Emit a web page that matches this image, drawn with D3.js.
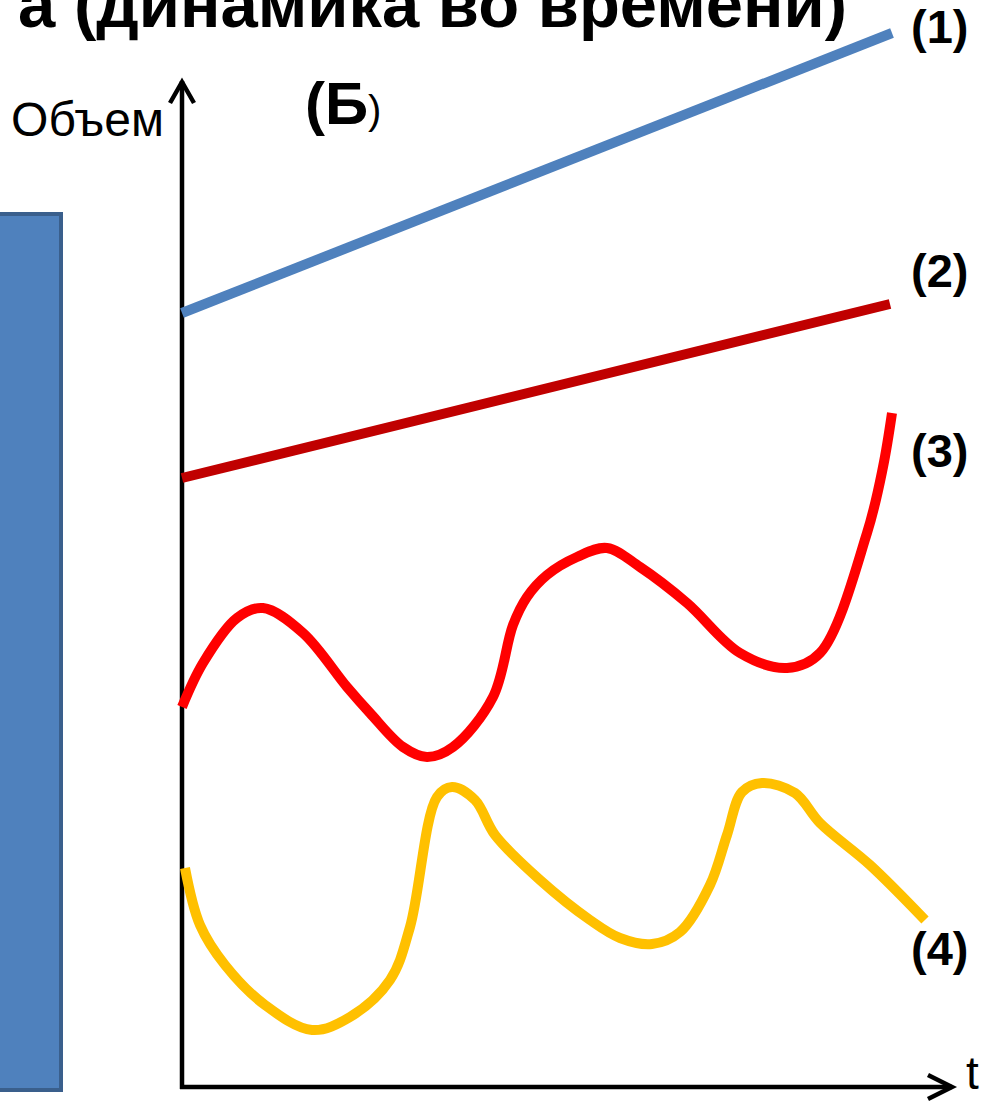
<!DOCTYPE html>
<html><head><meta charset="utf-8">
<script src="https://cdn.jsdelivr.net/npm/d3@7"></script>
<style>html,body{margin:0;padding:0;background:#fff;overflow:hidden}</style>
</head><body>
<script>
// Data (time units 0..770, volume units 0..1000)
const line1Time = [0, 710];
const line1Volume = [774, 1054];
const line2Time = [0, 708];
const line2Volume = [609, 783];
const curve3Time = [0,21,55,81,121,165,188,221,245,271,311,331,345,365,395,425,458,505,558,605,638,685,701,710];
const curve3Volume = [380,424,469,479,454,400,374,340,330,340,390,462,490,512,530,539,520,484,434,419,434,554,620,674];
const curve4Time = [3,18,43,83,130,168,208,228,255,270,293,313,358,408,438,470,498,528,545,560,580,613,638,688,743];
const curve4Volume = [219,162,122,82,57,70,107,160,290,300,287,252,207,167,149,143,155,202,252,295,304,294,264,222,167];
const seriesLabels = ["(1)", "(2)", "(3)", "(4)"];
const labelVolume = [1044, 800, 620, 122];
const panelABar = [{name: "A", value: 873}];
const axisLabels = {y: "Объем", x: "t"};
const titleText = "а (динамика во времени)";

const W = 996, H = 1102;
const svg = d3.select("body").append("svg").attr("width", W).attr("height", H)
  .style("font-family", "'Liberation Sans', Arial, sans-serif");

const x = d3.scaleLinear().domain([0, 770]).range([182, 952]);
const y = d3.scaleLinear().domain([0, 1000]).range([1087, 87]);

// Title (clipped at top)
svg.append("text").attr("x", 847).attr("y", 27).attr("text-anchor", "end")
  .attr("font-size", 67).attr("font-weight", "bold").attr("fill", "#000").text(titleText);

// Panel A bar (partially visible)
svg.selectAll("rect.bar").data(panelABar).join("rect").attr("class", "bar")
  .attr("x", -20).attr("width", 81)
  .attr("y", d => y(d.value)).attr("height", d => y(0) + 3 - y(d.value))
  .attr("fill", "#4F81BD").attr("stroke", "#3A5F8C").attr("stroke-width", 4);

// Axes
const ax = svg.append("g").attr("fill", "none").attr("stroke", "#000").attr("stroke-width", 4.5);
ax.append("line").attr("x1", x(0)).attr("y1", y(0) + 2).attr("x2", x(0)).attr("y2", y(1006));
ax.append("polyline").attr("points", `${x(0)-12},${y(984)} ${x(0)},${y(1005)} ${x(0)+12},${y(984)}`)
  .attr("stroke-linejoin", "miter");
ax.append("line").attr("x1", x(0) - 2).attr("y1", y(0)).attr("x2", x(770)).attr("y2", y(0));
ax.append("polyline").attr("points", `${x(746)},${y(12)} ${x(770)},${y(0)} ${x(746)},${y(-12)}`);

svg.append("text").attr("x", 164).attr("y", 136).attr("text-anchor", "end")
  .attr("font-size", 48).text(axisLabels.y);
svg.append("text").attr("x", 966).attr("y", 1089)
  .attr("font-size", 46).text(axisLabels.x);

// (Б)
const b = svg.append("text").attr("x", 305).attr("y", 124);
b.append("tspan").attr("font-size", 60).attr("font-weight", "bold").text("(Б");
b.append("tspan").attr("font-size", 40).text(")");

// Series
const zip = (t, v) => t.map((d, i) => [d, v[i]]);
const straight = d3.line().x(d => x(d[0])).y(d => y(d[1]));
const smooth = d3.line().x(d => x(d[0])).y(d => y(d[1])).curve(d3.curveCatmullRom.alpha(0.5));

svg.append("path").attr("d", straight(zip(line1Time, line1Volume)))
  .attr("fill", "none").attr("stroke", "#4F81BD").attr("stroke-width", 10);
svg.append("path").attr("d", straight(zip(line2Time, line2Volume)))
  .attr("fill", "none").attr("stroke", "#C00000").attr("stroke-width", 10);
svg.append("path").attr("d", smooth(zip(curve3Time, curve3Volume)))
  .attr("fill", "none").attr("stroke", "#FF0000").attr("stroke-width", 10).attr("stroke-linejoin", "round");
svg.append("path").attr("d", smooth(zip(curve4Time, curve4Volume)))
  .attr("fill", "none").attr("stroke", "#FFC000").attr("stroke-width", 10).attr("stroke-linejoin", "round");

// Series labels
svg.selectAll("text.lab").data(seriesLabels).join("text").attr("class", "lab")
  .attr("x", 911).attr("y", (d, i) => y(labelVolume[i]))
  .attr("font-size", 47).attr("font-weight", "bold").text(d => d);
</script>
</body></html>
